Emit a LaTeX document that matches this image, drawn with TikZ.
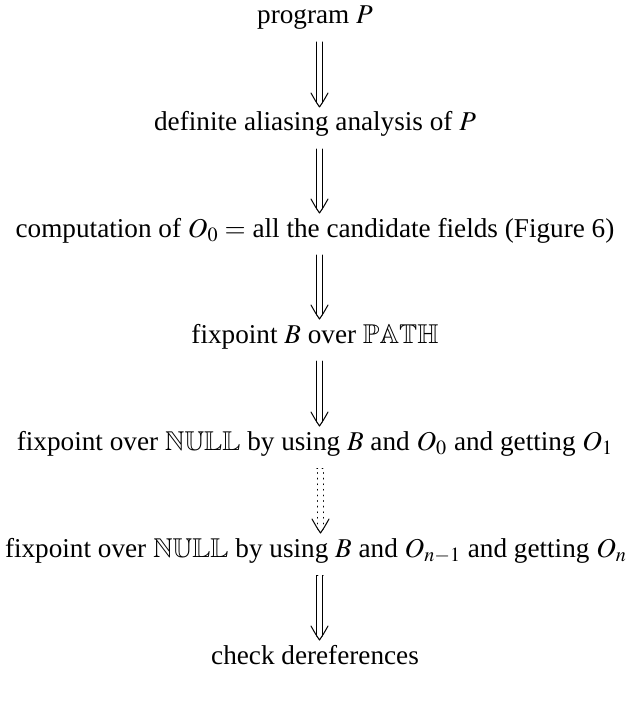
\documentclass[tikz,border=0pt]{standalone}
\usepackage{amssymb}
\usepackage{mathptmx}
\usepackage[no-math]{fontspec}
\setmainfont{Liberation Serif}
\usetikzlibrary{calc}
\begin{document}
\begin{tikzpicture}[x=0.5pt,y=-0.5pt,
  lbl/.style={inner sep=0pt, anchor=base, font=\fontsize{13.6}{16}\selectfont},
  ln/.style={line width=0.5pt, line cap=round, line join=round},
  dots/.style={ln, dash pattern=on 0.4pt off 2.4pt}]
\useasboundingbox (0,0) rectangle (630,706);
\node[lbl] (a) at (315,24) {program $P$};
\node[lbl] (b) at (315,131) {definite aliasing analysis of $P$};
\node[lbl] (c) at (315,237) {computation of $O_0 =$ all the candidate fields (Figure 6)};
\node[lbl] (d) at (315,343) {fixpoint $B$ over $\mathbb{PATH}$};
\node[lbl] (e) at (315,450) {fixpoint over $\mathbb{NULL}$ by using $B$ and $O_0$ and getting $O_1$};
\node[lbl] (f) at (316,557) {fixpoint over $\mathbb{NULL}$ by using $B$ and $O_{n-1}$ and getting $O_n$};
\node[lbl] (g) at (315,664) {check dereferences};
\foreach \s/\t/\sty in {a/b/ln,b/c/ln,c/d/ln,d/e/ln,e/f/dots,f/g/ln}{
  \coordinate (T) at ($(\s.base)+(4.5,18)$);
  \coordinate (P) at ($(\t.base)+(4.5,-24)$);
  \draw[\sty] ($(T)+(-2.6,0)$) -- ($(P|-T)+(-2.6,0)$) -- ($(P)+(-2.6,-4)$);
  \draw[\sty] ($(T)+(2.6,0)$) -- ($(P|-T)+(2.6,0)$) -- ($(P)+(2.6,-4)$);
  \draw[ln] ($(P)+(-8.5,-14)$) .. controls ($(P)+(-4,-6)$) .. (P)
            .. controls ($(P)+(4,-6)$) .. ($(P)+(8.5,-14)$);
}
\end{tikzpicture}
\end{document}
